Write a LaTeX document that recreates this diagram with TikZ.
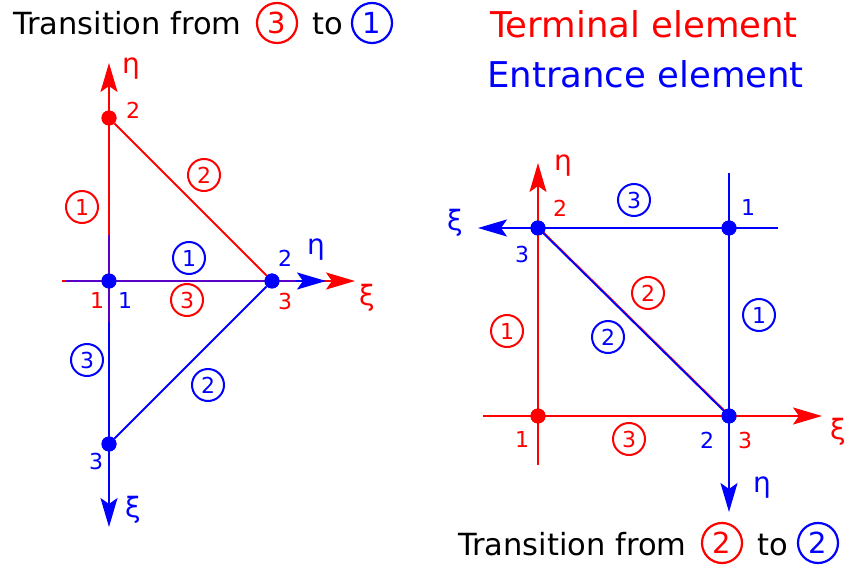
\documentclass[tikz,border=0pt]{standalone}
\usepackage{fontspec}
\setmainfont{DejaVu Sans}
\usetikzlibrary{arrows.meta}
\definecolor{rd}{RGB}{255,0,0}
\definecolor{bl}{RGB}{0,0,255}
\definecolor{pp}{RGB}{90,0,200}
\begin{document}
\begin{tikzpicture}[x=1pt,y=-1pt,
 axis/.style={line width=2pt, -{Stealth[length=29pt,width=17pt,inset=6pt]}},
 edge/.style={line width=1.8pt},
 dot/.style={circle,fill,inner sep=0pt,minimum size=15pt},
 cnum/.style={circle,draw,line width=2pt,inner sep=0pt,minimum size=32pt,font=\fontsize{22}{22}\selectfont},
 lbl/.style={font=\fontsize{22}{22}\selectfont,inner sep=0pt},
 gr/.style={font=\fontsize{28}{28}\selectfont,inner sep=0pt},
 ttl/.style={font=\fontsize{30.5}{30.5}\selectfont,inner sep=0pt,anchor=base west},
 big/.style={font=\fontsize{35.5}{35.5}\selectfont,inner sep=0pt,anchor=base west},
 tcirc/.style={circle,draw,line width=2.2pt,inner sep=0pt,minimum size=40pt,font=\fontsize{29}{29}\selectfont}]
\useasboundingbox[fill=white] (0,0) rectangle (847,572);

% ---------- titles ----------
\node[ttl] (t1) at (13,35) {Transition from};
\node[tcirc,rd] (t1a) at (277,23) {3};
\node[ttl] (t1b) at (312,35) {to};
\node[tcirc,bl] (t1c) at (372,23) {1};

\node[big,rd] (te) at (490,38) {Terminal element};
\node[big,bl] (ee) at (487,88) {Entrance element};

\node[ttl] (t2) at (458,555) {Transition from};
\node[tcirc,rd] (t2a) at (722,543) {2};
\node[ttl] (t2b) at (757,555) {to};
\node[tcirc,bl] (t2c) at (818,543) {2};

% ---------- left diagram ----------
\coordinate (Lrtop) at (109,63);
\coordinate (Lrbot) at (109,322);
\coordinate (Lbtop) at (109,235);
\coordinate (Lbbot) at (109,527);
\coordinate (Lrleft) at (62,281);
\coordinate (Lrright) at (355,281);
\coordinate (Lbleft) at (66,281);
\coordinate (Lbright) at (326,281);
\coordinate (Lbmid) at (296,281);
\node[dot,rd] (LB) at (109,118) {};
\node[dot,bl] (LA) at (109,281) {};
\node[dot,bl] (LC) at (272,281) {};
\node[dot,bl] (LD) at (109,444) {};

\draw[axis,rd] (Lrbot) -- (Lrtop);
\draw[axis,rd] (Lrleft) -- (Lrright);
\draw[edge,rd] (LB) -- (LC);
\draw[axis,bl] (Lbtop) -- (Lbbot);
\draw[axis,bl] (Lbleft) -- (Lbright);
\draw[line width=2pt,pp] (Lbtop) -- (Lrbot);
\draw[line width=2pt,pp] (Lbleft) -- (Lbmid);
\draw[edge,bl] (LC) -- (LD);
\node[dot,rd] at (LB) {};
\node[dot,bl] at (LA) {};
\node[dot,bl] at (LC) {};
\node[dot,bl] at (LD) {};

\node[gr,rd] (lre) at (131,69) {η};
\node[lbl,rd] (lr2) at (133,110) {2};
\node[cnum,rd] (lrc1) at (82,207) {1};
\node[cnum,rd] (lrc2) at (204,175) {2};
\node[cnum,bl] (lbc1) at (189,258) {1};
\node[lbl,bl] (lb2) at (285,258) {2};
\node[gr,bl] (lbe) at (316,250) {η};
\node[gr,rd] (lrx) at (367,298) {ξ};
\node[lbl,rd] (lr1) at (97,300) {1};
\node[lbl,bl] (lb1) at (125,300) {1};
\node[lbl,rd] (lr3) at (285,301) {3};
\node[cnum,rd] (lrc3) at (187,300) {3};
\node[cnum,bl] (lbc3) at (87,360) {3};
\node[cnum,bl] (lbc2) at (208,385) {2};
\node[lbl,bl] (lb3) at (96,461) {3};
\node[gr,bl] (lbx) at (133,510) {ξ};

% ---------- right diagram ----------
\coordinate (Rrtop) at (538,163);
\coordinate (Rrbot) at (538,465);
\coordinate (Rrleft) at (483,416);
\coordinate (Rrright) at (822,416);
\coordinate (Rbright) at (778,228);
\coordinate (Rbleft) at (478,228);
\coordinate (Rbtop) at (729,173);
\coordinate (Rbbot) at (729,512);
\node[dot,bl] (RP) at (538,228) {};
\node[dot,bl] (RQ) at (729,228) {};
\node[dot,rd] (RR) at (538,416) {};
\node[dot,bl] (RS) at (729,416) {};

\draw[axis,bl] (Rbright) -- (Rbleft);
\draw[axis,rd] (Rrbot) -- (Rrtop);
\draw[axis,rd] (Rrleft) -- (Rrright);
\draw[axis,bl] (Rbtop) -- (Rbbot);
\draw[edge,rd] ([xshift=0.9pt]RP.center) -- ([xshift=0.9pt]RS.center);
\draw[edge,bl] (RP.center) -- (RS.center);
\node[dot,bl] at (RP) {};
\node[dot,bl] at (RQ) {};
\node[dot,rd] at (RR) {};
\node[dot,bl] at (RS) {};

\node[gr,rd] (rre) at (563,166) {η};
\node[lbl,rd] (rr2) at (560,208) {2};
\node[gr,bl] (rbx) at (455,223) {ξ};
\node[lbl,bl] (rb3) at (522,254) {3};
\node[cnum,bl] (rbc3) at (634,200) {3};
\node[lbl,bl] (rb1) at (748,207) {1};
\node[cnum,rd] (rrc2) at (648,293) {2};
\node[cnum,bl] (rbc1) at (759,315) {1};
\node[cnum,rd] (rrc1) at (507,331) {1};
\node[cnum,bl] (rbc2) at (608,337) {2};
\node[lbl,rd] (rr1) at (522,439) {1};
\node[cnum,rd] (rrc3) at (629,439) {3};
\node[lbl,bl] (rb2) at (707,440) {2};
\node[lbl,rd] (rr3) at (745,440) {3};
\node[gr,rd] (rrx) at (838,432) {ξ};
\node[gr,bl] (rbe) at (762,488) {η};
\end{tikzpicture}
\end{document}
